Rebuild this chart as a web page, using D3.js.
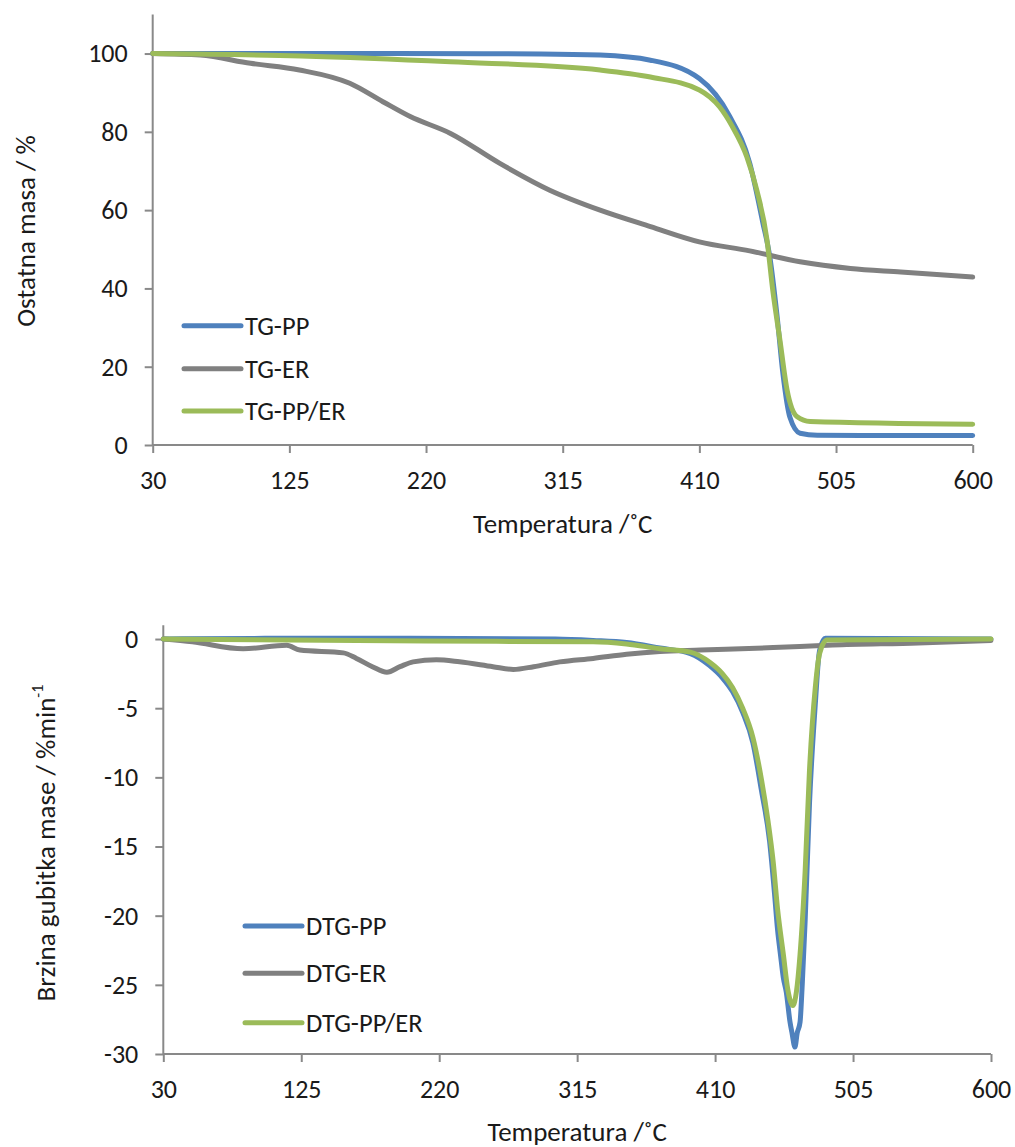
<!doctype html>
<html>
<head>
<meta charset="utf-8">
<style>
  body { margin: 0; background: #fff; }
  text { font-family: Carlito, Calibri, "Open Sans", sans-serif; fill: #1a1a1a; }
  .axis path, .axis line { stroke: #898989; stroke-width: 2px; }
  .axis text { font-size: 26px; }
</style>
<script src="https://d3js.org/d3.v7.min.js"></script>
</head>
<body>
<svg width="1015" height="1147"></svg>
<script>

// temperature ticks shared by both panels
var tempTicks = [30, 125, 220, 315, 410, 505, 600];
var tgTicks = [0, 20, 40, 60, 80, 100];
var dtgTicks = [0, -5, -10, -15, -20, -25, -30];

// TG curves, [temperature, residual mass %]
var tgPP = [[30,100],[100,100],[200,100],[300,99.9],[341,99.6],[376,98.3],[410,93.6],[431,84],[445,72],
  [454,57],[459,48],[464,33],[468,18.5],[473,7],[480,3],[492,2.5],[600,2.4]];
var tgER = [[30,100],[63,99.6],[98,97.5],[132,95.8],[167,92.4],[190,87.7],[209,83.9],[237,79.6],[271,72],
  [306,65.1],[341,60],[376,55.8],[410,51.9],[445,49.6],[480,46.8],[515,45.1],[550,44.2],[600,42.9]];
var tgPPER = [[30,100],[133,99.4],[237,97.9],[341,95.8],[376,94],[410,90.7],[424,86.4],[433,81.3],[443,73.6],
  [450,65],[457,52.4],[461,39.6],[466,26.8],[471,14],[478,7.2],[487,6],[600,5.3]];

// DTG curves, [temperature, rate %/min]
var dtgPP = [[30,0],[100,0.05],[200,0.05],[300,0],[326,-0.1],[349,-0.25],[372,-0.65],[393,-1.05],[406,-1.9],
  [415,-2.8],[422,-3.8],[429,-5.3],[436,-7.5],[442,-11],[447.5,-14.6],[451,-18.5],[453,-21],[455,-22.8],[457,-24.5],
  [459,-25.5],[461.6,-27.7],[463,-28.5],[465,-29.5],[466.5,-28.5],[468.5,-27.7],[470,-25],[472,-20.4],
  [475,-11.9],[479,-4.7],[482,-0.8],[486,0.05],[600,0]];
var dtgER = [[30,0],[50,-0.2],[85,-0.7],[115,-0.45],[124,-0.8],[154,-1.0],[163,-1.4],[174,-2.0],[184,-2.4],
  [193,-2.0],[202,-1.65],[218,-1.5],[234,-1.65],[257,-2.0],[271,-2.2],[285,-2.0],[303,-1.65],[326,-1.4],
  [349,-1.1],[372,-0.9],[400,-0.8],[450,-0.62],[491,-0.43],[550,-0.28],[600,-0.1]];
var dtgPPER = [[30,0],[211,-0.15],[326,-0.2],[349,-0.36],[372,-0.7],[393,-0.95],[406.5,-1.7],[415,-2.5],
  [422,-3.5],[429,-5],[436,-7.1],[442,-10.2],[446.5,-13.2],[450,-16.1],[453,-19.5],[457,-22.8],[460,-25.3],
  [463.6,-26.5],[466,-25.5],[468.5,-22.8],[472,-16.8],[475,-9.5],[479,-3.5],[482,-1.04],[487,-0.07],[600,0]];

var tgNames = ["TG-PP", "TG-ER", "TG-PP/ER"];
var dtgNames = ["DTG-PP", "DTG-ER", "DTG-PP/ER"];
var colors = ["#4f81bd", "#808080", "#9bbb59"];

var svg = d3.select("svg");

function panel(opt) {
  var x = d3.scaleLinear().domain([30, 600]).range(opt.xr);
  var y = d3.scaleLinear().domain(opt.yd).range(opt.yr);
  var g = svg.append("g");

  g.append("g")
   .attr("class", "axis")
   .attr("transform", "translate(0," + opt.yr[0] + ")")
   .call(d3.axisBottom(x).tickValues(tempTicks).tickSize(8).tickSizeOuter(0).tickPadding(18))
   .select(".domain").attr("d", "M" + opt.xr[0] + ",0H" + opt.xr[1]);

  g.append("g")
   .attr("class", "axis")
   .attr("transform", "translate(" + opt.xr[0] + ",0)")
   .call(d3.axisLeft(y).tickValues(opt.yTicks).tickSize(8).tickSizeOuter(0).tickPadding(17)
     .tickFormat(function(d) { return String(d); }))
   .select(".domain").attr("d", "M0," + opt.yr[0] + "V" + opt.yr[1]);

  var line = d3.line()
    .curve(d3.curveMonotoneX)
    .x(function(d) { return x(d[0]); })
    .y(function(d) { return y(d[1]); });

  opt.series.forEach(function(s, i) {
    g.append("path")
     .attr("d", line(s))
     .attr("fill", "none")
     .attr("stroke", colors[i])
     .attr("stroke-width", 5)
     .attr("stroke-linecap", "round")
     .attr("stroke-linejoin", "round");
  });

  // legend
  opt.names.forEach(function(n, i) {
    var ly = opt.legY[i];
    g.append("line")
     .attr("x1", opt.legX).attr("x2", opt.legX + 57)
     .attr("y1", ly).attr("y2", ly)
     .attr("stroke", colors[i]).attr("stroke-width", 5).attr("stroke-linecap", "round");
    g.append("text")
     .attr("x", opt.legX + 61).attr("y", ly)
     .attr("dy", "0.34em")
     .attr("font-size", "26.5px")
     .text(n);
  });

  g.append("text")
   .attr("x", (opt.xr[0] + opt.xr[1]) / 2)
   .attr("y", opt.xTitleY)
   .attr("text-anchor", "middle")
   .attr("font-size", "27px")
   .text("Temperatura /˚C");

  return g;
}

var top1 = panel({
  xr: [152.7, 972.7], yd: [0, 110], yr: [445, 14.4], yTicks: tgTicks,
  series: [tgPP, tgER, tgPPER], names: tgNames,
  legX: 184, legY: [325.7, 368.7, 411], xTitleY: 533
});
top1.append("text")
  .attr("transform", "translate(35,231) rotate(-90)")
  .attr("text-anchor", "middle")
  .attr("font-size", "27px")
  .text("Ostatna masa / %");

var bot = panel({
  xr: [163.3, 991], yd: [-30, 1], yr: [1054, 625.2], yTicks: dtgTicks,
  series: [dtgPP, dtgER, dtgPPER], names: dtgNames,
  legX: 245, legY: [926, 973.3, 1022.7], xTitleY: 1141
});
var yl = bot.append("text")
  .attr("transform", "translate(55,843) rotate(-90)")
  .attr("text-anchor", "middle")
  .attr("font-size", "27px");
yl.append("tspan").text("Brzina gubitka mase / %min");
yl.append("tspan").attr("font-size", "16px").attr("dy", "-0.75em").text("-1");

</script>
</body>
</html>
